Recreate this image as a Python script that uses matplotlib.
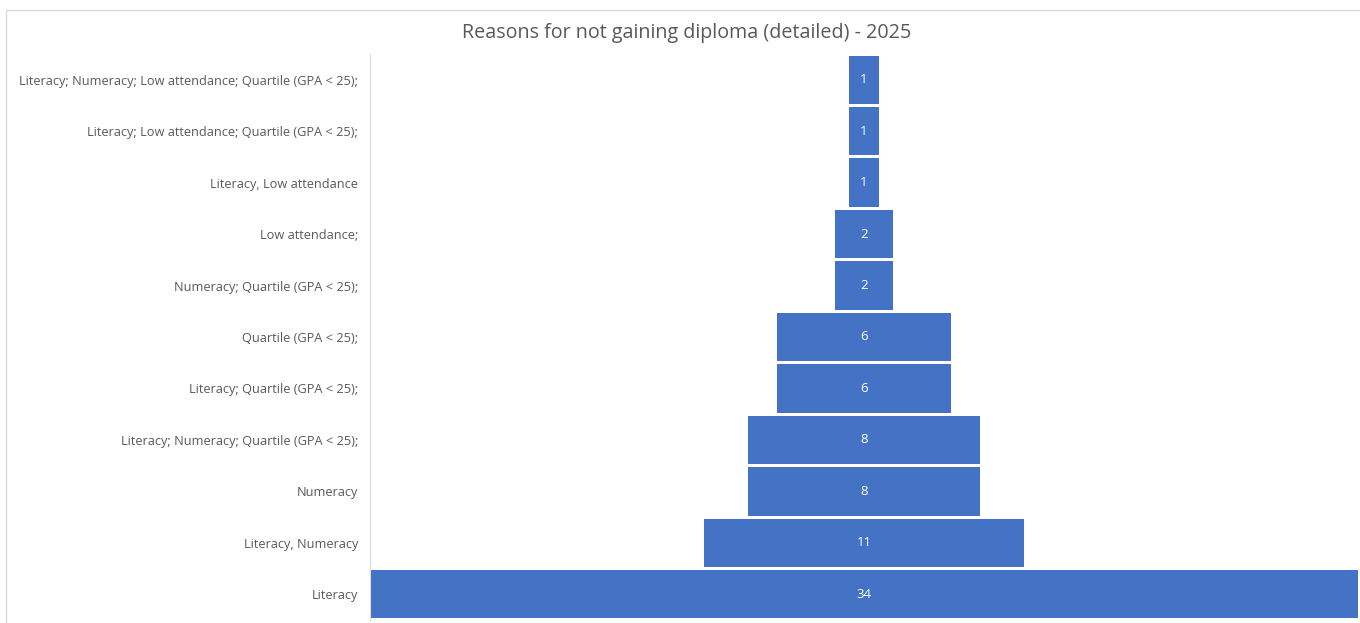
import matplotlib.pyplot as plt
from matplotlib.patches import Rectangle

# reasons, listed top to bottom as in the funnel
reasons = [
    "Literacy; Numeracy; Low attendance; Quartile (GPA < 25);",
    "Literacy; Low attendance; Quartile (GPA < 25);",
    "Literacy, Low attendance",
    "Low attendance;",
    "Numeracy; Quartile (GPA < 25);",
    "Quartile (GPA < 25);",
    "Literacy; Quartile (GPA < 25);",
    "Literacy; Numeracy; Quartile (GPA < 25);",
    "Numeracy",
    "Literacy, Numeracy",
    "Literacy",
]
counts = [1, 1, 1, 2, 2, 6, 6, 8, 8, 11, 34]

plt.rcParams['font.family'] = ['Open Sans', 'DejaVu Sans']

fig = plt.figure(figsize=(13.6, 6.23), dpi=100)
# light chart border like the Excel chart area (right and bottom run off the image)
fig.patches.append(Rectangle((6 / 1360, -0.1), 1.5, (623 - 10) / 623 + 0.1,
                             transform=fig.transFigure, fill=False,
                             edgecolor='#d9d9d9', linewidth=1, clip_on=False))

ax = fig.add_axes([370 / 1360, 3 / 623, 988 / 1360, 566 / 623])
pos = list(range(len(reasons)))
half = [c / 2 for c in counts]
ax.barh(pos, counts, left=[-h for h in half], height=0.94, color='#4472c4')

for p, c in zip(pos, counts):
    ax.text(0, p, str(c), ha='center', va='center', color='white', fontsize=9.5)

m = max(counts) / 2
ax.set_xlim(-m, m)
ax.set_ylim(len(reasons) - 0.5, -0.5)
ax.set_yticks(pos)
ax.set_yticklabels(reasons, fontsize=9.2, color='#595959')
ax.tick_params(axis='y', length=0, pad=8.6)
ax.set_xticks([])
for s in ['top', 'right', 'bottom']:
    ax.spines[s].set_visible(False)
ax.spines['left'].set_color('#d9d9d9')

fig.text(687 / 1360, 1 - 33 / 623, "Reasons for not gaining diploma (detailed) - 2025",
         ha='center', va='center', fontsize=14.2, color='#595959')

fig.savefig('out.png', dpi=100)
